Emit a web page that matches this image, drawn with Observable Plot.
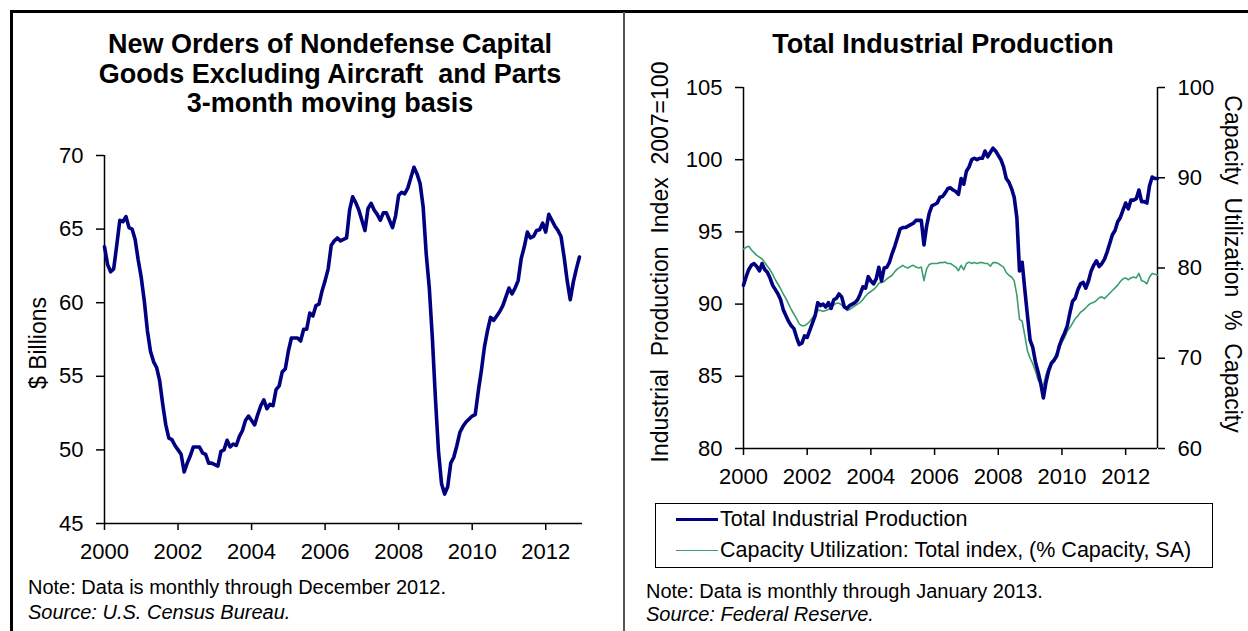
<!DOCTYPE html>
<html>
<head>
<meta charset="utf-8">
<script src="https://cdn.jsdelivr.net/npm/d3@7"></script>
<script src="https://cdn.jsdelivr.net/npm/@observablehq/plot@0.6"></script>
<style>
  html, body { margin: 0; padding: 0; background: #fff; }
  body { font-family: "Liberation Sans", Arial, sans-serif; color: #000; }
  #page { position: relative; width: 1248px; height: 631px; overflow: hidden; background: #fff; }
  .abs { position: absolute; }
  .title { font-weight: bold; font-size: 27px; line-height: 29.5px; text-align: center; white-space: pre; }
  .axis-title { font-size: 23px; white-space: pre; line-height: 1; }
  .note { font-size: 20px; line-height: 23px; white-space: nowrap; }
  .note i { font-style: italic; }
  .legend { border: 1.5px solid #000; box-sizing: border-box; }
  .legend-row { position: absolute; left: 20px; display: flex; align-items: center; font-size: 21.5px; white-space: nowrap; }
  .swatch { width: 42px; margin-right: 2px; }
</style>
</head>
<body>
<div id="page">
  <!-- frame: top rule, left rule and the divider between the two panels -->
  <div class="abs" style="left:10px; top:10px; width:1238px; height:3px; background:#000;"></div>
  <div class="abs" style="left:10px; top:10px; width:3px; height:621px; background:#000;"></div>
  <div class="abs" style="left:623px; top:12px; width:1.5px; height:619px; background:#555;"></div>

  <div id="left-chart" class="abs" style="left:0; top:0;"></div>
  <div id="right-chart" class="abs" style="left:624px; top:0;"></div>

  <!-- left panel text -->
  <div class="abs title" style="left:80px; top:30px; width:500px;">New Orders of Nondefense Capital
Goods Excluding Aircraft  and Parts
3-month moving basis</div>
  <div class="abs axis-title" style="left:38px; top:343px; transform:translate(-50%,-50%) rotate(-90deg);">$ Billions</div>
  <div class="abs note" style="left:28px; top:576px;">Note: Data is monthly through December 2012.</div>
  <div class="abs note" style="left:28px; top:601px;"><i>Source: U.S. Census Bureau.</i></div>

  <!-- right panel text -->
  <div class="abs title" style="left:693px; top:30px; width:500px;">Total Industrial Production</div>
  <div class="abs axis-title" style="left:660px; top:262px; transform:translate(-50%,-50%) rotate(-90deg);">Industrial  Production  Index  2007=100</div>
  <div class="abs axis-title" style="left:1232px; top:264px; transform:translate(-50%,-50%) rotate(90deg);">Capacity  Utilization  %  Capacity</div>

  <div class="abs legend" style="left:655px; top:503px; width:558px; height:65px;">
    <div class="legend-row" style="top:3px;"><div class="swatch" style="height:3.6px; background:#000080;"></div>Total Industrial Production</div>
    <div class="legend-row" style="top:34px;"><div class="swatch" style="height:1.6px; background:#3c9e6e;"></div>Capacity Utilization: Total index, (% Capacity, SA)</div>
  </div>
  <div class="abs note" style="left:646px; top:580px;">Note: Data is monthly through January 2013.</div>
  <div class="abs note" style="left:646px; top:603px;"><i>Source: Federal Reserve.</i></div>
</div>

<script>
// Axis ticks
const yearTicks = [2000, 2002, 2004, 2006, 2008, 2010, 2012];
const ordersTicks = [45, 50, 55, 60, 65, 70];
const ipTicks = [80, 85, 90, 95, 100, 105];
const cuTicks = [60, 70, 80, 90, 100];

// New orders, nondefense capital goods ex aircraft, 3-month moving average ($ billions), Jan 2000 – Dec 2012
const orders = [
  63.8, 62.6, 62.1, 62.3, 63.9, 65.6, 65.5, 65.85, 65.1, 65.0, 64.3, 62.9, // 2000
  61.7, 60.1, 58.1, 56.7, 56.0, 55.6, 54.7, 53.1, 51.7, 50.8, 50.7, 50.3,   // 2001
  50.0, 49.7, 48.5, 49.1, 49.6, 50.2, 50.2, 50.2, 49.8, 49.7, 49.1, 49.1,   // 2002
  49.0, 48.9, 49.9, 50.0, 50.65, 50.2, 50.4, 50.3, 50.9, 51.3, 52.0, 52.3,  // 2003
  52.0, 51.7, 52.4, 53.0, 53.4, 52.8, 53.1, 53.0, 54.1, 54.35, 55.3, 55.5,  // 2004
  56.7, 57.6, 57.6, 57.6, 57.4, 58.2, 58.2, 59.3, 59.1, 59.8, 59.9, 60.8,   // 2005
  61.5, 62.3, 63.9, 64.2, 64.4, 64.2, 64.3, 64.4, 66.3, 67.2, 66.8, 66.3,   // 2006
  65.6, 64.9, 66.4, 66.75, 66.3, 66.0, 65.6, 66.1, 66.1, 65.6, 65.1, 65.9,  // 2007
  67.3, 67.5, 67.4, 67.8, 68.5, 69.2, 68.75, 68.1, 66.5, 63.3, 61.0, 57.6,  // 2008
  53.5, 49.9, 47.7, 47.0, 47.5, 49.1, 49.5, 50.3, 51.2, 51.6, 51.9, 52.1,   // 2009
  52.3, 52.4, 54.0, 55.4, 57.0, 58.1, 59.0, 58.8, 59.1, 59.4, 59.8, 60.4,   // 2010
  61.0, 60.6, 61.0, 61.5, 63.0, 63.8, 64.8, 64.4, 64.5, 64.9, 64.95, 65.4,  // 2011
  64.8, 66.0, 65.6, 65.2, 64.9, 64.5, 63.1, 61.5, 60.2, 61.4, 62.3, 63.1    // 2012
];

// Total industrial production index (2007 = 100), Jan 2000 – Jan 2013
const industrialProduction = [
  91.3, 91.9, 92.4, 92.7, 92.8, 92.6, 92.3, 92.8, 92.4, 92.2, 91.8, 91.3,    // 2000
  91.0, 90.7, 90.3, 89.6, 89.2, 88.8, 88.5, 88.3, 87.7, 87.2, 87.3, 87.8,    // 2001
  87.7, 88.2, 88.7, 89.2, 90.1, 89.9, 90.0, 89.8, 90.1, 89.7, 90.3, 90.4,    // 2002
  90.7, 90.5, 89.8, 89.7, 89.9, 90.0, 90.1, 90.3, 90.7, 91.2, 91.1, 91.9,    // 2003
  91.6, 91.4, 91.75, 92.55, 91.6, 92.5, 92.55, 92.9, 93.5, 94.0, 94.6, 95.2, // 2004
  95.3, 95.3, 95.4, 95.5, 95.6, 95.8, 95.8, 95.8, 94.1, 95.4, 96.3, 96.8,    // 2005
  96.9, 97.0, 97.4, 97.45, 97.7, 98.0, 98.05, 97.9, 97.8, 97.6, 98.7, 98.3,  // 2006
  99.2, 99.5, 100.0, 100.1, 100.0, 100.1, 100.1, 100.6, 100.2, 100.5, 100.8, 100.6, // 2007
  100.3, 100.0, 99.5, 98.7, 98.45, 98.0, 97.4, 96.0, 92.3, 92.9, 91.0, 89.2, // 2008
  87.5, 87.0, 86.0, 85.3, 84.5, 83.5, 84.6, 85.4, 85.9, 86.1, 86.4, 87.1,    // 2009
  87.6, 88.0, 88.5, 89.4, 90.2, 90.4, 91.0, 91.4, 91.5, 91.1, 91.6, 92.3,    // 2010
  92.7, 93.0, 92.6, 92.8, 93.1, 93.6, 94.2, 94.8, 95.1, 95.7, 96.0, 96.5,    // 2011
  97.0, 96.6, 97.2, 97.2, 97.3, 97.9, 97.1, 97.1, 97.0, 98.2, 98.8, 98.7,    // 2012
  98.7                                                                        // 2013
];

// Capacity utilization, total index (% of capacity, SA), Jan 2000 – Jan 2013
const capacityUtilization = [
  82.1, 82.3, 82.4, 82.0, 81.7, 81.4, 81.2, 81.0, 80.6, 80.2, 79.8, 79.3,    // 2000
  78.7, 78.2, 77.7, 77.1, 76.6, 76.0, 75.4, 74.9, 74.4, 73.8, 73.6, 73.6,    // 2001
  73.8, 74.1, 74.5, 74.9, 75.3, 75.3, 75.2, 75.3, 75.4, 75.6, 75.9, 76.1,    // 2002
  76.1, 75.9, 75.6, 75.3, 75.4, 75.6, 75.8, 76.0, 76.2, 76.5, 76.9, 77.2,    // 2003
  77.4, 77.6, 77.9, 78.3, 78.4, 78.5, 78.8, 79.0, 79.2, 79.6, 79.9, 80.1,    // 2004
  80.3, 80.1, 80.0, 80.2, 80.3, 80.1, 80.0, 80.1, 78.6, 79.9, 80.4, 80.5,    // 2005
  80.5, 80.5, 80.6, 80.6, 80.65, 80.5, 80.5, 80.3, 80.1, 79.7, 80.3, 79.8,   // 2006
  80.5, 80.65, 80.5, 80.6, 80.5, 80.6, 80.6, 80.5, 80.5, 80.2, 80.6, 80.6,   // 2007
  80.5, 80.3, 80.1, 79.5, 79.2, 79.0, 78.6, 77.0, 74.3, 74.1, 72.5, 70.8,    // 2008
  70.0, 69.4, 68.6, 67.6, 67.2, 67.0, 68.2, 69.0, 69.6, 70.0, 70.6, 71.0,    // 2009
  71.8, 72.3, 73.0, 73.4, 73.9, 74.4, 74.7, 75.1, 75.3, 75.6, 75.9, 76.1,    // 2010
  76.2, 76.4, 76.7, 76.8, 76.6, 76.9, 77.2, 77.5, 77.8, 78.1, 78.5, 78.8,    // 2011
  78.9, 78.7, 78.9, 79.0, 78.9, 79.4, 78.6, 78.5, 78.25, 79.0, 79.4, 79.3,   // 2012
  79.2                                                                        // 2013
];

// Monthly series starting January 2000, positioned by fractional year
const monthly = (values) => values.map((value, i) => ({date: 2000 + i / 12, value}));

const navy = "#000080";
const green = "#3c9e6e";
const baseStyle = {
  background: "transparent",
  color: "#000",
  fontFamily: '"Liberation Sans", Arial, sans-serif',
  fontSize: "22px",
  overflow: "visible"
};
const axisStyle = {tickPadding: 13, strokeWidth: 1.5, label: null, tickFormat: (d) => String(d)};

// Left panel: capital goods orders
const leftChart = Plot.plot({
  width: 624,
  height: 631,
  marginLeft: 104,
  marginRight: 42,
  marginTop: 155,
  marginBottom: 108,
  style: baseStyle,
  x: {domain: [2000, 2013]},
  y: {domain: [45, 70]},
  marks: [
    Plot.axisY({...axisStyle, ticks: ordersTicks, tickSize: 8}),
    Plot.axisX({...axisStyle, ticks: yearTicks, tickSize: 7}),
    Plot.ruleX([2000], {strokeWidth: 1.5}),
    Plot.ruleY([45], {strokeWidth: 1.5}),
    Plot.lineY(monthly(orders), {x: "date", y: "value", stroke: navy, strokeWidth: 3.6})
  ]
});
document.getElementById("left-chart").append(leftChart);

// Right panel: industrial production (left axis) and capacity utilization (right axis)
const cuToIp = d3.scaleLinear([60, 100], [80, 105]);

const rightChart = Plot.plot({
  width: 624,
  height: 631,
  marginLeft: 119,
  marginRight: 91,
  marginTop: 87,
  marginBottom: 183,
  style: baseStyle,
  x: {domain: [2000, 2013]},
  y: {domain: [80, 105]},
  marks: [
    Plot.axisY({...axisStyle, ticks: ipTicks, tickSize: 8, anchor: "left"}),
    Plot.axisY(cuTicks.map(cuToIp), {
      ...axisStyle,
      anchor: "right",
      tickSize: 7,
      tickFormat: (v) => String(Math.round(cuToIp.invert(v)))
    }),
    Plot.axisX({...axisStyle, ticks: yearTicks, tickSize: 7}),
    Plot.ruleX([2000, 2013], {strokeWidth: 1.5}),
    Plot.ruleY([80], {strokeWidth: 1.5}),
    Plot.lineY(monthly(capacityUtilization), {x: "date", y: (d) => cuToIp(d.value), stroke: green, strokeWidth: 1.6}),
    Plot.lineY(monthly(industrialProduction), {x: "date", y: "value", stroke: navy, strokeWidth: 3.6})
  ]
});
document.getElementById("right-chart").append(rightChart);
</script>
</body>
</html>
